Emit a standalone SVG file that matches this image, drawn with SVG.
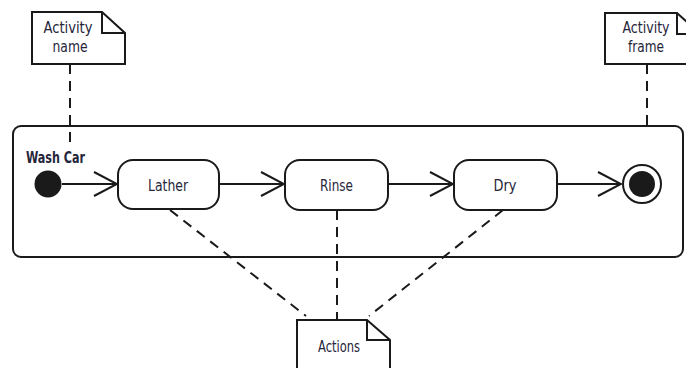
<svg xmlns="http://www.w3.org/2000/svg" width="686" height="368" viewBox="0 0 686 368">
<style>
.ln{fill:none;stroke:#1a1a1a;stroke-width:2}
.note{fill:#fff;stroke:#1a1a1a;stroke-width:2;stroke-linejoin:miter}
.dash{fill:none;stroke:#1a1a1a;stroke-width:2;stroke-dasharray:10,7}
.act{fill:#fff;stroke:#1a1a1a;stroke-width:2}
.t{font-family:"DejaVu Sans Condensed","Liberation Sans Narrow","Liberation Sans",sans-serif;font-stretch:condensed;font-size:16px;fill:#25253a;text-anchor:middle}
.b{font-weight:bold;text-anchor:start}
</style>
<defs>
<marker id="open" markerWidth="26" markerHeight="28" refX="24" refY="13" orient="auto" markerUnits="userSpaceOnUse">
<path d="M1,1 L24,13 L1,25" fill="none" stroke="#1a1a1a" stroke-width="2"/>
</marker>
</defs>
<g id="frame">
<rect x="13" y="126" width="670" height="131" rx="8" class="ln"/>
<text x="26" y="163" class="t b" textLength="59" lengthAdjust="spacingAndGlyphs">Wash Car</text>
</g>
<g id="connectors">
<line x1="70" y1="64" x2="70" y2="145" class="dash"/>
<line x1="647" y1="64" x2="647" y2="126" class="dash"/>
<line x1="170" y1="210" x2="306" y2="316" class="dash"/>
<line x1="337" y1="210" x2="337" y2="320" class="dash"/>
<line x1="503" y1="210" x2="369" y2="316" class="dash"/>
<line x1="62" y1="184" x2="117" y2="184" class="ln" marker-end="url(#open)"/>
<line x1="219" y1="184" x2="284" y2="184" class="ln" marker-end="url(#open)"/>
<line x1="388" y1="184" x2="453" y2="184" class="ln" marker-end="url(#open)"/>
<line x1="557" y1="184" x2="621" y2="184" class="ln" marker-end="url(#open)"/>
</g>
<g id="note-activity-name">
<path d="M32,12 L102,12 L125,33 L125,64 L32,64 Z" class="note"/>
<path d="M102,12 L102,33 L125,33" class="ln"/>
<text x="68" y="33" class="t" textLength="49" lengthAdjust="spacingAndGlyphs">Activity</text>
<text x="70" y="52" class="t" textLength="35" lengthAdjust="spacingAndGlyphs">name</text>
</g>
<g id="note-activity-frame">
<path d="M605,13 L677,13 L700,34 L700,64 L605,64 Z" class="note"/>
<path d="M677,13 L677,34 L700,34" class="ln"/>
<text x="646" y="33" class="t" textLength="47" lengthAdjust="spacingAndGlyphs">Activity</text>
<text x="646" y="52" class="t" textLength="36" lengthAdjust="spacingAndGlyphs">frame</text>
</g>
<g id="initial">
<circle cx="48" cy="184" r="13.5" fill="#1a1a1a"/>
</g>
<g id="lather">
<rect x="118" y="160" width="101" height="49" rx="15" class="act"/>
<text x="168" y="191" class="t" textLength="40" lengthAdjust="spacingAndGlyphs">Lather</text>
</g>
<g id="rinse">
<rect x="285" y="160" width="103" height="50" rx="15" class="act"/>
<text x="336.5" y="191" class="t" textLength="33" lengthAdjust="spacingAndGlyphs">Rinse</text>
</g>
<g id="dry">
<rect x="454" y="160" width="103" height="50" rx="15" class="act"/>
<text x="505" y="191" class="t" textLength="23" lengthAdjust="spacingAndGlyphs">Dry</text>
</g>
<g id="final">
<circle cx="642" cy="184" r="19" fill="#fff" stroke="#1a1a1a" stroke-width="2"/>
<circle cx="642" cy="184" r="13" fill="#1a1a1a"/>
</g>
<g id="note-actions">
<path d="M297,320 L367,320 L390,340 L390,372 L297,372 Z" class="note"/>
<path d="M367,320 L367,340 L390,340" class="ln"/>
<text x="339" y="352" class="t" textLength="42" lengthAdjust="spacingAndGlyphs">Actions</text>
</g>
</svg>
